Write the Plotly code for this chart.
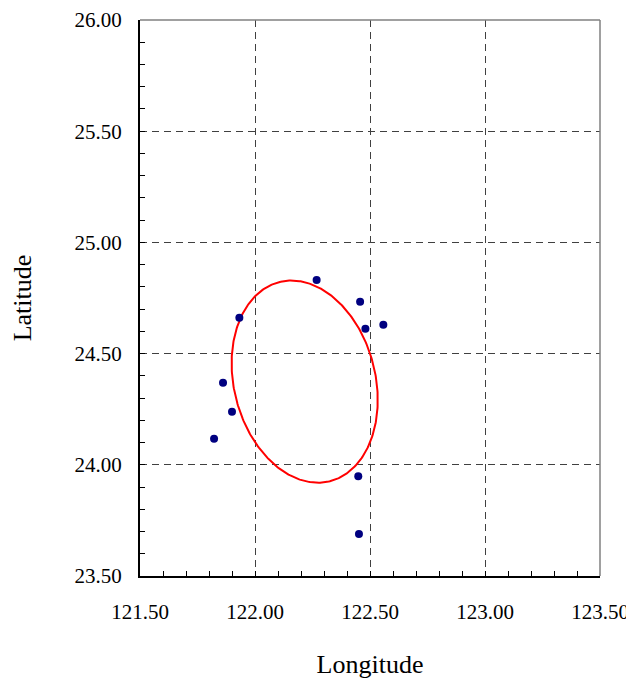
import numpy as np
import plotly.graph_objects as go

# Station positions (longitude, latitude)
lon = [122.268, 122.457, 122.480, 122.558, 121.932, 121.861, 121.900, 121.822, 122.449, 122.452]
lat = [24.831, 24.733, 24.612, 24.630, 24.661, 24.369, 24.239, 24.117, 23.948, 23.689]

# Ellipse parameters (data units)
ell_center_lon = 122.216
ell_center_lat = 24.374
ell_semi_major = 0.461
ell_semi_minor = 0.308
ell_angle_deg = 103.1

x_ticks = [121.5, 122.0, 122.5, 123.0, 123.5]
y_ticks = [23.5, 24.0, 24.5, 25.0, 25.5, 26.0]

t = np.linspace(0, 2 * np.pi, 361)
th = np.deg2rad(ell_angle_deg)
ex = ell_center_lon + ell_semi_major * np.cos(t) * np.cos(th) - ell_semi_minor * np.sin(t) * np.sin(th)
ey = ell_center_lat + ell_semi_major * np.cos(t) * np.sin(th) + ell_semi_minor * np.sin(t) * np.cos(th)

fig = go.Figure()
fig.add_trace(go.Scatter(x=ex, y=ey, mode="lines", line=dict(color="#ff0000", width=2),
                         hoverinfo="skip", showlegend=False))
fig.add_trace(go.Scatter(x=lon, y=lat, mode="markers",
                         marker=dict(color="#000080", size=8), showlegend=False))

font = "Liberation Serif"
fig.update_layout(
    width=626, height=671,
    margin=dict(l=132, r=34, t=12, b=103, autoexpand=False),
    paper_bgcolor="white", plot_bgcolor="white",
    font=dict(family=font, color="black", size=21),
    showlegend=False,
)
fig.update_xaxes(
    range=[121.5, 123.5], tickvals=x_ticks, ticktext=[f"{v:.2f}" for v in x_ticks],
    tickfont=dict(size=21, family=font, color="black"),
    automargin=False, ticklabeloverflow="allow",
    showgrid=True, gridcolor="#404040", griddash="7px,5px", gridwidth=1,
    showline=True, linecolor="black", linewidth=2,
    ticks="inside", ticklen=5, tickcolor="black", tickwidth=1,
    ticklabelstandoff=16,
    minor=dict(dtick=0.1, ticks="inside", ticklen=5, tickcolor="black", showgrid=False),
    zeroline=False,
    title=dict(text="Longitude", font=dict(size=26, family=font, color="black"), standoff=35),
)
fig.update_yaxes(
    range=[23.5, 26.0], tickvals=y_ticks, ticktext=[f"{v:.2f}" for v in y_ticks],
    tickfont=dict(size=21, family=font, color="black"),
    automargin=False, ticklabeloverflow="allow",
    showgrid=True, gridcolor="#404040", griddash="7px,5px", gridwidth=1,
    showline=True, linecolor="black", linewidth=2,
    ticks="inside", ticklen=5, tickcolor="black", tickwidth=1,
    ticklabelstandoff=12,
    minor=dict(dtick=0.1, ticks="inside", ticklen=5, tickcolor="black", showgrid=False),
    zeroline=False,
    title=dict(text="Latitude", font=dict(size=26, family=font, color="black"), standoff=35),
)
# top and right frame lines in gray
fig.add_shape(type="line", xref="paper", yref="paper", x0=0, x1=1, y0=1, y1=1,
              line=dict(color="#808080", width=1.5))
fig.add_shape(type="line", xref="paper", yref="paper", x0=1, x1=1, y0=0, y1=1,
              line=dict(color="#808080", width=1.5))

fig.write_html("out.html")
